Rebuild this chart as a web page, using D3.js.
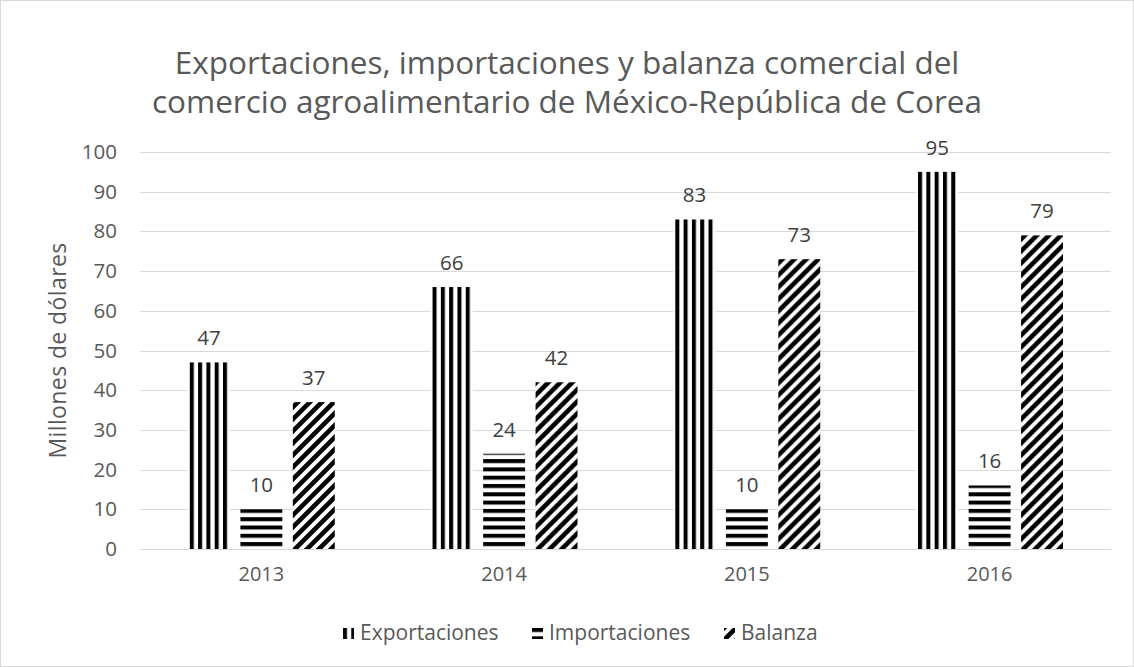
<!DOCTYPE html>
<html>
<head>
<meta charset="utf-8">
<script src="https://cdn.jsdelivr.net/npm/d3@7"></script>
<style>
  body { margin: 0; background: #fff; }
  svg text { font-family: "Open Sans", sans-serif; }
</style>
</head>
<body>
<svg id="chart"></svg>
<script>
// data
var years = ["2013", "2014", "2015", "2016"];
var exportaciones = [47, 66, 83, 95];
var importaciones = [10, 24, 10, 16];
var balanza = [37, 42, 73, 79];
var seriesNames = ["Exportaciones", "Importaciones", "Balanza"];
var yTicks = [0, 10, 20, 30, 40, 50, 60, 70, 80, 90, 100];

var width = 1134, height = 667;
var margin = {top: 152, right: 23, bottom: 118, left: 140};
var innerW = width - margin.left - margin.right,
    innerH = height - margin.top - margin.bottom;

var svg = d3.select("#chart")
  .attr("width", width)
  .attr("height", height);

// outer border
svg.append("rect")
  .attr("x", 0.5).attr("y", 0.5)
  .attr("width", width - 1).attr("height", height - 1)
  .attr("fill", "#fff").attr("stroke", "#d9d9d9");

// patterns (vertical, horizontal, diagonal)
var defs = svg.append("defs");
var pv = defs.append("pattern").attr("id", "pv")
  .attr("patternUnits", "userSpaceOnUse").attr("width", 8.3).attr("height", 8);
pv.append("rect").attr("width", 8.3).attr("height", 8).attr("fill", "#fff");
pv.append("rect").attr("x", 0).attr("width", 4).attr("height", 8).attr("fill", "#000");

var ph = defs.append("pattern").attr("id", "ph")
  .attr("patternUnits", "userSpaceOnUse").attr("width", 8).attr("height", 8.3);
ph.append("rect").attr("width", 8).attr("height", 8.3).attr("fill", "#fff");
ph.append("rect").attr("y", 0).attr("width", 8).attr("height", 4).attr("fill", "#000");

var pd = defs.append("pattern").attr("id", "pd")
  .attr("patternUnits", "userSpaceOnUse").attr("width", 12).attr("height", 12);
pd.append("rect").attr("width", 12).attr("height", 12).attr("fill", "#fff");
pd.append("path").attr("d", "M-3,3 L3,-3 M0,12 L12,0 M9,15 L15,9")
  .attr("stroke", "#000").attr("stroke-width", 4.6);

var fills = ["url(#pv)", "url(#ph)", "url(#pd)"];

// title
var title = svg.append("text")
  .attr("x", 567).attr("y", 74)
  .attr("text-anchor", "middle")
  .attr("fill", "#595959")
  .style("font-size", "31.5px");
title.append("tspan").attr("x", 567).attr("dy", 0)
  .text("Exportaciones, importaciones y balanza comercial del");
title.append("tspan").attr("x", 567).attr("dy", 39)
  .text("comercio agroalimentario de México-República de Corea");

var g = svg.append("g")
  .attr("transform", "translate(" + margin.left + "," + margin.top + ")");

var x = d3.scaleBand().domain(years).range([0, innerW]);
var x1 = d3.scaleBand().domain(seriesNames)
  .range([48, x.bandwidth() - 48]).paddingInner(0.2);
var y = d3.scaleLinear().domain([0, 100]).range([innerH, 0]);

// gridlines
g.selectAll(".grid").data(yTicks).enter().append("line")
  .attr("x1", 0).attr("x2", innerW)
  .attr("y1", function(d) { return Math.round(y(d)) + 0.5; })
  .attr("y2", function(d) { return Math.round(y(d)) + 0.5; })
  .attr("stroke", "#d9d9d9").attr("stroke-width", 1);

// y axis labels
var yAxis = g.append("g").call(d3.axisLeft(y).tickValues(yTicks).tickSize(0).tickPadding(23));
yAxis.select(".domain").remove();
yAxis.selectAll("text").attr("fill", "#595959").style("font-size", "20.5px")
  .style("font-family", "'Open Sans', sans-serif");

// x axis
var xAxis = g.append("g").attr("transform", "translate(0," + innerH + ")")
  .call(d3.axisBottom(x).tickSize(0).tickPadding(18));
xAxis.select(".domain").attr("stroke", "#d9d9d9");
xAxis.selectAll("text").attr("fill", "#595959").style("font-size", "20px")
  .style("font-family", "'Open Sans', sans-serif");

// bars
var seriesData = [exportaciones, importaciones, balanza];
var groups = g.selectAll(".yr").data(years).enter().append("g")
  .attr("transform", function(d) { return "translate(" + x(d) + ",0)"; });

groups.each(function(yr, i) {
  var gg = d3.select(this);
  seriesNames.forEach(function(s, j) {
    var v = seriesData[j][i];
    gg.append("rect")
      .attr("x", x1(s))
      .attr("y", y(v))
      .attr("width", x1.bandwidth())
      .attr("height", innerH - y(v))
      .attr("fill", fills[j]);
    gg.append("text")
      .attr("x", x1(s) + x1.bandwidth() / 2)
      .attr("y", y(v) - 17)
      .attr("text-anchor", "middle")
      .attr("fill", "#404040")
      .style("font-size", "20.5px")
      .text(v);
  });
});

// y title
svg.append("text")
  .attr("transform", "translate(66," + (margin.top + innerH / 2) + ") rotate(-90)")
  .attr("text-anchor", "middle")
  .attr("fill", "#595959")
  .style("font-size", "23px")
  .style("letter-spacing", "0.4px")
  .text("Millones de dólares");

// legend
var legendX = [343, 532, 724];
var legend = svg.selectAll(".lg").data(seriesNames).enter().append("g")
  .attr("transform", function(d, i) { return "translate(" + legendX[i] + ",628)"; });
legend.append("rect")
  .attr("width", 11).attr("height", 11)
  .attr("fill", function(d, i) { return fills[i]; });
legend.append("text")
  .attr("x", 17).attr("y", 12)
  .attr("fill", "#595959")
  .style("font-size", "21px")
  .text(function(d) { return d; });
</script>
</body>
</html>
